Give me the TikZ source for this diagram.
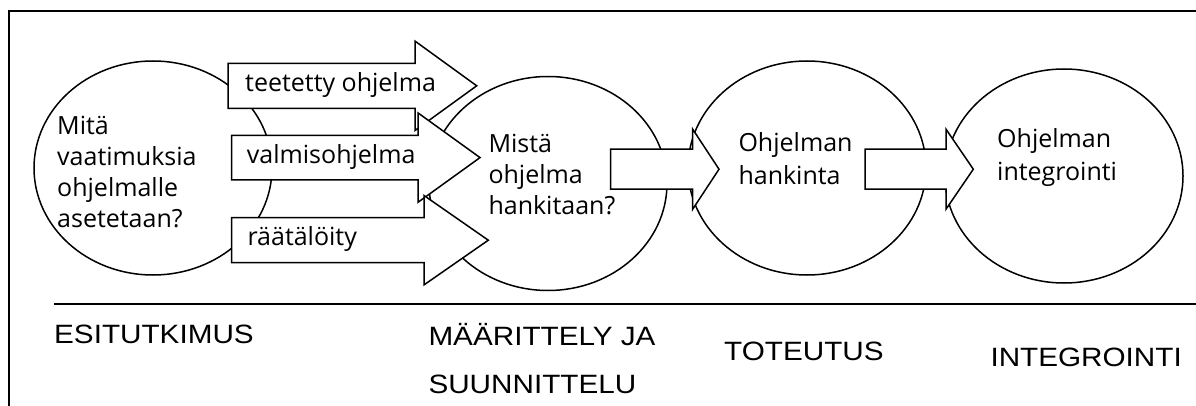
\documentclass[tikz,border=0pt]{standalone}
\usepackage{fontspec}
\newfontfamily\humfont{Open Sans}
\newfontfamily\phasefont[FakeStretch=1.12]{Liberation Sans}
\usetikzlibrary{shapes.geometric}

% block arrow: left x, head base x, tip x, centre y, half shaft, half head
\newcommand\flowarrow[6]{%
  \draw[blockarrow] (#1,#4-#5) -- (#2,#4-#5) -- (#2,#4-#6) -- (#3,#4)
    -- (#2,#4+#6) -- (#2,#4+#5) -- (#1,#4+#5) -- cycle;}

\begin{document}
\begin{tikzpicture}[x=1pt,y=-1pt,
  stage/.style={ellipse, draw, line width=1.5pt, fill=white,
    minimum width=238pt, minimum height=214pt, inner sep=0pt},
  blockarrow/.style={draw, line width=1.5pt, fill=white, line join=miter},
  frameline/.style={line width=2pt},
  steptext/.style={anchor=base west, inner sep=0pt,
    font=\humfont\fontsize{25}{31}\selectfont},
  phase/.style={anchor=base west, inner sep=0pt,
    font=\phasefont\fontsize{26.5}{48}\selectfont}]

\useasboundingbox (0,0) rectangle (1196,406);

% frame and phase divider
\coordinate (frameR) at (1196,11);
\coordinate (frameB) at (9,406);
\draw[frameline] (frameR) -| (frameB);
\coordinate (divL) at (54,304);
\coordinate (divR) at (1196,304);
\draw[frameline] (divL) -- (divR);

% stages
\node[stage] (e1) at (153,168) {};
\node[stage] (e2) at (548,183.5) {};
\node[stage] (e3) at (807,168) {};
\node[stage] (e4) at (1064,176) {};

% alternatives from the first stage to the second
\flowarrow{228}{415}{476.7}{85.8}{22.5}{44.7}
\flowarrow{231.7}{418}{480}{157.6}{22.3}{44.7}
\flowarrow{231.7}{424}{488.3}{240.2}{22.5}{44.7}
% stage transitions
\flowarrow{610.7}{692.7}{719}{169.2}{20}{40}
\flowarrow{865}{946}{973.3}{169.2}{20}{40}

% stage texts
\node[steptext] (t1) at (57,135)
  {\vtop{\hbox{Mitä}\hbox{vaatimuksia}\hbox{ohjelmalle}\hbox{asetetaan?}}};
\node[steptext] (t2) at (488.3,152.5)
  {\vtop{\hbox{Mistä}\hbox{ohjelma}\hbox{hankitaan?}}};
\node[steptext] (t3) at (738.3,151.5)
  {\vtop{\baselineskip=33pt\hbox{Ohjelman}\hbox{hankinta}}};
\node[steptext] (t4) at (997,147.5)
  {\vtop{\baselineskip=33pt\hbox{Ohjelman}\hbox{integrointi}}};

% arrow texts
\node[steptext] (a1) at (245,91.7) {teetetty ohjelma};
\node[steptext] (a2) at (246.7,163.3) {valmisohjelma};
\node[steptext] (a3) at (247.3,245) {räätälöity};

% phases
\node[phase] (p1) at (54,343) {ESITUTKIMUS};
\node[phase] (p2) at (428.3,345) {MÄÄRITTELY JA};
\node[phase] (p2b) at (428.3,393.3) {SUUNNITTELU};
\node[phase] (p3) at (724,360) {TOTEUTUS};
\node[phase] (p4) at (990.3,366) {INTEGROINTI};
\end{tikzpicture}
\end{document}
